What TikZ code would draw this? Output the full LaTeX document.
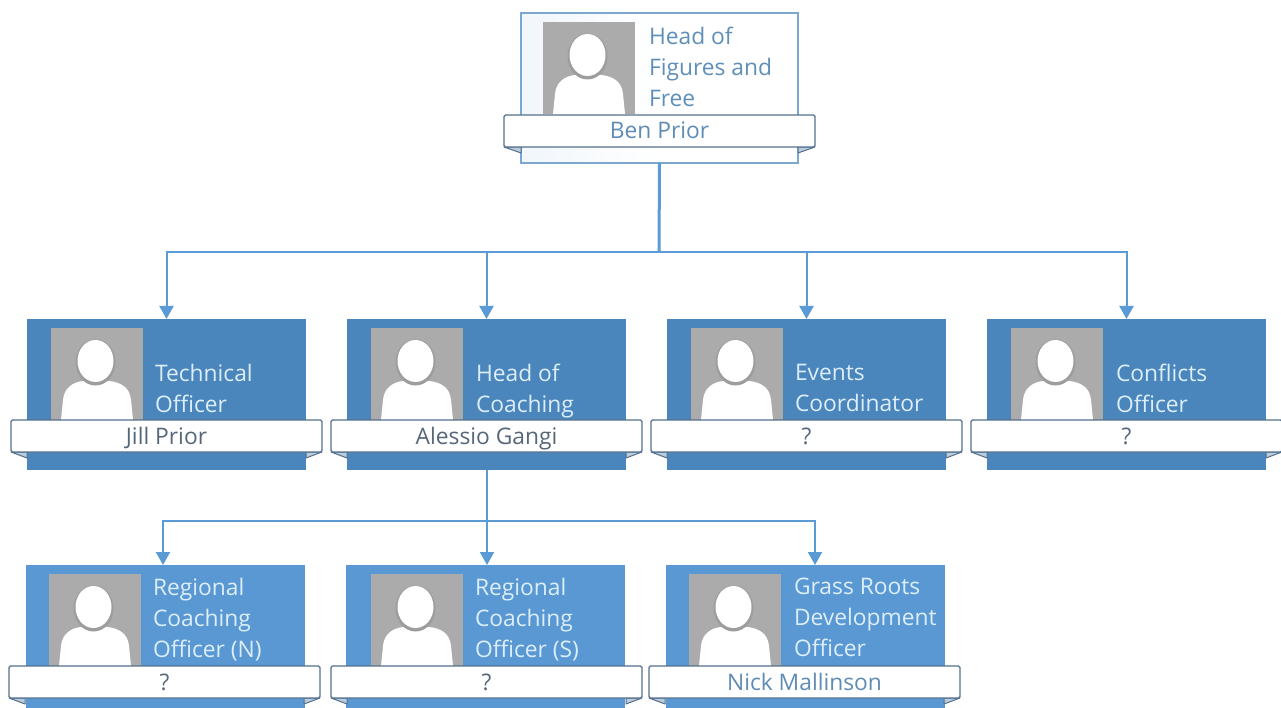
\documentclass[tikz,border=0pt]{standalone}
\usepackage{fontspec}
\setmainfont{Open Sans}
\usetikzlibrary{arrows.meta}
\definecolor{linkblue}{HTML}{5B9BD5}
\definecolor{deepblue}{HTML}{4A85BC}
\definecolor{midblue}{HTML}{5A98D3}
\definecolor{palefill}{HTML}{F1F6FB}
\definecolor{paleedge}{HTML}{7CA8D0}
\definecolor{ribbonedge}{HTML}{54708C}
\definecolor{foldfill}{HTML}{B9CBDC}
\definecolor{photogray}{HTML}{ABABAB}
\definecolor{lighttext}{HTML}{DCEEFA}
\definecolor{toptext}{HTML}{5E8FB8}
\definecolor{darkname}{HTML}{56677A}
\definecolor{bluename}{HTML}{5F8CB5}
\tikzset{
  x=1pt,y=-1pt,
  base/.style={inner sep=0pt,outer sep=0pt,anchor=north west},
  topcard/.style={base,draw=paleedge,line width=1.6pt,left color=palefill,right color=white,middle color=white,minimum width=277pt,minimum height=150pt},
  deepcard/.style={base,fill=deepblue,minimum width=279pt,minimum height=151pt},
  midcard/.style={base,fill=midblue,minimum width=279pt,minimum height=143pt},
  ribbonbox/.style={base,draw=ribbonedge,line width=1.3pt,fill=white,rounded corners=1.5pt,minimum width=311pt,minimum height=32pt,font=\fontsize{22.8}{27}\selectfont},
  lownamed/.style={text height=17pt,text depth=0pt},
  highnamed/.style={text height=16.5pt,text depth=1pt},
  photobox/.style={base,fill=photogray,minimum width=92pt,minimum height=92pt},
  titletext/.style={inner sep=0pt,outer sep=0pt,anchor=north west,align=left,font=\fontsize{22.8}{31}\selectfont,execute at begin node=\strut},
  link/.style={draw=linkblue,line width=2pt},
  trunk/.style={draw=linkblue,line width=3pt},
  arrowed/.style={link,-{Triangle[length=13pt,width=14pt]}},
}
% #1 node name, #2 x, #3 y: photo with its silhouette
\newcommand{\photoat}[3]{%
  \node[photobox] (#1) at (#2,#3) {};
  \begin{scope}[shift={(#2,#3)}]
    \fill[white] (10,92) -- (12,72) .. controls (13,60) and (22,54) .. (32,53)
      -- (58,53) .. controls (70,54) and (79,60) .. (80,72) -- (82,92) -- cycle;
    \fill[photogray!92!black] (44.5,34.5) ellipse (20 and 23);
    \fill[white] (44.5,33) ellipse (18 and 21);
  \end{scope}}
% #1 node name, #2 x, #3 y, #4 fold depth, #5 text colour, #6 name style, #7 name
\newcommand{\ribbonat}[7]{%
  \fill[foldfill,draw=ribbonedge,line width=1pt,line join=round] (#2,#3+32) -- (#2+#4,#3+38) -- (#2+#4,#3+32) -- cycle;
  \fill[foldfill,draw=ribbonedge,line width=1pt,line join=round] (#2+311,#3+32) -- (#2+311-#4,#3+38) -- (#2+311-#4,#3+32) -- cycle;
  \node[ribbonbox,#6,text=#5] (#1) at (#2,#3) {#7};}
\begin{document}
\begin{tikzpicture}
\useasboundingbox (0,0) rectangle (1281,708);
\fill[white] (0,0) rectangle (1281,708);

% cards
\node[topcard] (head) at (521,13) {};
\node[deepcard] (tech) at (27,319) {};
\node[deepcard] (coach) at (347,319) {};
\node[deepcard] (events) at (667,319) {};
\node[deepcard] (conf) at (987,319) {};
\node[midcard] (north) at (26,565) {};
\node[midcard] (south) at (346,565) {};
\node[midcard] (grass) at (666,565) {};

% photos
\photoat{phead}{543}{22}
\photoat{ptech}{51}{328}
\photoat{pcoach}{371}{328}
\photoat{pevents}{691}{328}
\photoat{pconf}{1011}{328}
\photoat{pnorth}{49}{574}
\photoat{psouth}{371}{574}
\photoat{pgrass}{689}{574}

% titles
\node[titletext,text=toptext] (thead) at (649,27) {Head of\\Figures and\\Free};
\node[titletext,text=lighttext] (ttech) at (155,364) {Technical\\Officer};
\node[titletext,text=lighttext] (tcoach) at (476,364) {Head of\\Coaching};
\node[titletext,text=lighttext] (tevents) at (795,364) {Events\\Coordinator};
\node[titletext,text=lighttext] (tconf) at (1116,364) {Conflicts\\Officer};
\node[titletext,text=lighttext] (tnorth) at (153,578) {Regional\\Coaching\\Officer (N)};
\node[titletext,text=lighttext] (tsouth) at (475,578) {Regional\\Coaching\\Officer (S)};
\node[titletext,text=lighttext] (tgrass) at (794,578) {Grass Roots\\Development\\Officer};

% name ribbons
\ribbonat{nhead}{504}{115}{17}{bluename}{highnamed}{Ben Prior}
\ribbonat{ntech}{11}{420}{16}{darkname}{lownamed}{Jill Prior}
\ribbonat{ncoach}{331}{420}{16}{darkname}{lownamed}{Alessio Gangi}
\ribbonat{nevents}{651}{420}{16}{darkname}{lownamed}{?}
\ribbonat{nconf}{971}{420}{16}{darkname}{lownamed}{?}
\ribbonat{nnorth}{9}{666}{16}{darkname}{lownamed}{?}
\ribbonat{nsouth}{331}{666}{16}{darkname}{lownamed}{?}
\ribbonat{ngrass}{649}{666}{16}{bluename}{lownamed}{Nick Mallinson}

% connectors
\coordinate (bus) at (659,252);
\coordinate (sub) at (487,521);
\coordinate (innorth) at (163,565);
\coordinate (insouth) at (487,565);
\coordinate (ingrass) at (815,565);
\draw[trunk] (head.south) -- (bus);
\draw[arrowed] (bus) -| (tech.north);
\draw[arrowed] (bus) -| (coach.north);
\draw[arrowed] (bus) -| (events.north);
\draw[arrowed] (bus) -| (conf.north);
\draw[link] (coach.south -| sub) -- (sub);
\draw[arrowed] (sub) -| (innorth);
\draw[arrowed] (sub) -- (insouth);
\draw[arrowed] (sub) -| (ingrass);
\end{tikzpicture}
\end{document}
